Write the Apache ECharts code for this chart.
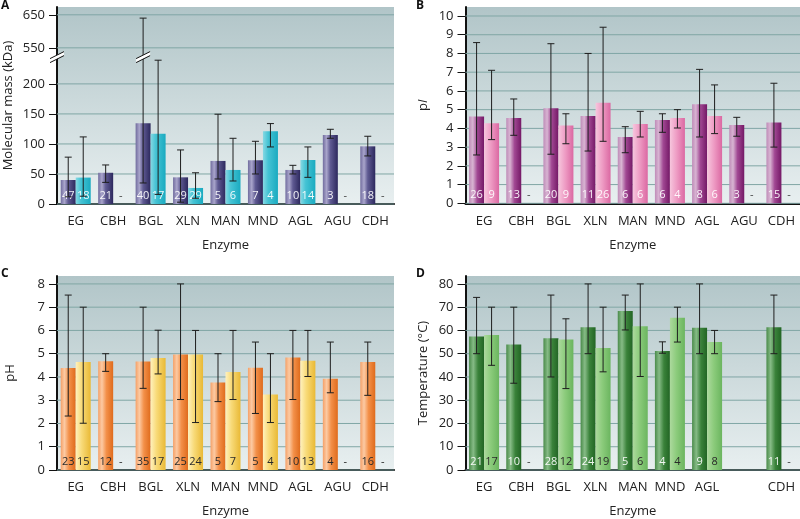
<!DOCTYPE html>
<html><head><meta charset="utf-8">
<script src="https://cdn.jsdelivr.net/npm/echarts@6/dist/echarts.min.js"></script>
<style>html,body{margin:0;padding:0;background:#fff}#c{width:800px;height:519px}</style>
</head><body><div id="c"></div>
<script>
// ---------- categories ----------
const enzymes = ['EG','CBH','BGL','XLN','MAN','MND','AGL','AGU','CDH'];
const enzymesD = ['EG','CBH','BGL','XLN','MAN','MND','AGL','','CDH'];

// ---------- A: molecular mass (kDa) ----------
const massTicks = [0,50,100,150,200,550,650];
const massBreak = 460;
const massS1 = [40,52,134.5,44.4,71.7,72.8,56.7,115,96];
const massS1Low = [12,36,35,3,41.7,50,50,109.4,80];
const massS1High = [78,65,640,90,149.5,104.4,64.4,124.4,112.8];
const massS2 = [44,null,117,26.7,56.7,121,73.3,null,null];
const massS2Low = [13,null,16,9.5,38.3,95,44.4,null,null];
const massS2High = [111.7,null,430,52,109.4,133.9,95,null,null];
const massN1 = ['47','21','40','29','5','7','10','3','18'];
const massN2 = ['18','-','17','29','6','4','14','-','-'];

// ---------- B: pI ----------
const piTicks = [0,1,2,3,4,5,6,7,8,9,10];
const piS1 = [4.64,4.55,5.07,4.66,3.54,4.45,5.29,4.18,4.32];
const piS1Low = [2.58,3.63,2.62,2.79,2.7,3.79,3.54,3.58,3.0];
const piS1High = [8.58,5.57,8.52,8.0,4.09,4.78,7.15,4.59,6.41];
const piS2 = [4.27,null,4.16,5.37,4.23,4.55,4.66,null,null];
const piS2Low = [3.4,null,3.18,3.31,3.54,4.02,3.72,null,null];
const piS2High = [7.1,null,4.78,9.4,4.91,5.0,6.32,null,null];
const piN1 = ['26','13','20','11','6','6','8','3','15'];
const piN2 = ['9','-','9','26','6','4','6','-','-'];

// ---------- C: pH ----------
const phTicks = [0,1,2,3,4,5,6,7,8];
const phS1 = [4.38,4.68,4.66,4.96,3.76,4.4,4.84,3.92,4.64];
const phS1Low = [2.32,4.24,3.51,3.03,2.94,2.43,3.03,3.32,3.21];
const phS1High = [7.52,5.0,7.0,8.0,5.0,5.5,6.0,5.5,5.5];
const phS2 = [4.64,null,4.81,4.96,4.21,3.25,4.7,null,null];
const phS2Low = [2.01,null,4.13,2.04,3.03,2.04,4.02,null,null];
const phS2High = [7.0,null,6.01,6.0,6.0,5.0,6.0,null,null];
const phN1 = ['23','12','35','25','5','5','10','4','16'];
const phN2 = ['15','-','17','24','7','4','13','-','-'];

// ---------- D: temperature (°C) ----------
const tempTicks = [0,10,20,30,40,50,60,70,80];
const tempS1 = [57.4,53.9,56.6,61.4,68.3,51.2,61.2,null,61.4];
const tempS1Low = [50,37.3,40,50,60.2,50.2,50,null,50];
const tempS1High = [74.2,70,75.2,80,75.2,55.1,80,null,75.2];
const tempS2 = [58,null,56.1,52.5,61.8,65.5,55,null,null];
const tempS2Low = [45,null,35,42.2,40.2,55,50,null,null];
const tempS2High = [70,null,65,70,80,70,60,null,null];
const tempN1 = ['21','10','28','24','5','4','9','','11'];
const tempN2 = ['17','-','12','19','6','4','8','','-'];

// ---------- helpers ----------
const FONT = 'Open Sans';
const BW = 15;
function massT(v){
  if (v == null) return null;
  if (v <= 200) return v;
  if (v <= 550) return 200 + (v - 200) * 60 / 350;
  return 260 + (v - 550) * 0.55;
}
const ident = v => v;
function grad(stops){
  return new echarts.graphic.LinearGradient(0,0,1,0, stops.map(c=>({offset:c[0], color:c[1]})));
}
const bgGrad = () => new echarts.graphic.LinearGradient(0,0,0,1,[
  {offset:0,color:'#b1c5c8'},{offset:1,color:'#e8eff0'}]);

function gridLineSeries(idx, ticks, tf){
  return {
    type:'custom', xAxisIndex:idx, yAxisIndex:idx, z:1, silent:true,
    data: ticks.map(t => [0, tf(t)]),
    encode:{x:0,y:1},
    renderItem(params, api){
      const cs = params.coordSys;
      const y = api.coord([0, api.value(1)])[1];
      return {type:'line', shape:{x1:cs.x, y1:y, x2:cs.x+cs.width, y2:y},
        style:{stroke:'#80a6a5', lineWidth:1}};
    }
  };
}

function barSeries(idx, vals, tf, color, nArr, nColor){
  return {
    type:'bar', xAxisIndex:idx, yAxisIndex:idx, z:2,
    data: vals.map(v => v == null ? null : tf(v)),
    barWidth: BW, barGap:'0%',
    itemStyle:{color: color},
    label:{show:true, position:'insideBottom', distance:3, color:nColor,
      fontFamily:FONT, fontSize:11, formatter: p => nArr[p.dataIndex]},
    silent:true, animation:false
  };
}

function errorSeries(idx, lists, tf){
  const items = [];
  lists.forEach((L, s) => {
    L.lo.forEach((lo, i) => {
      if (lo == null || L.hi[i] == null) return;
      items.push({i, s, lo: tf(lo), hi: tf(L.hi[i])});
    });
  });
  return {
    type:'custom', xAxisIndex:idx, yAxisIndex:idx, z:4, silent:true,
    data: items.map(it => [it.i, it.lo, it.hi]),
    encode:{x:0, y:[1,2]},
    renderItem(params, api){
      const it = items[params.dataIndex];
      const off = (it.s === 0 ? -1 : 1) * BW / 2;
      const a = api.coord([it.i, it.lo]);
      const b = api.coord([it.i, it.hi]);
      const x = a[0] + off;
      const st = {stroke:'#1e1e1e', lineWidth:1};
      return {type:'group', children:[
        {type:'line', shape:{x1:x, y1:a[1], x2:x, y2:b[1]}, style:st},
        {type:'line', shape:{x1:x-3.5, y1:a[1], x2:x+3.5, y2:a[1]}, style:st},
        {type:'line', shape:{x1:x-3.5, y1:b[1], x2:x+3.5, y2:b[1]}, style:st}
      ]};
    }
  };
}

function dashSeries(idx, n2, color){
  const items = [];
  n2.forEach((t, i) => { if (t === '-') items.push(i); });
  return {
    type:'custom', xAxisIndex:idx, yAxisIndex:idx, z:5, silent:true,
    data: items.map(i => [i, 0]),
    encode:{x:0,y:1},
    renderItem(params, api){
      const i = items[params.dataIndex];
      const p = api.coord([i, 0]);
      return {type:'text', x:p[0] + BW/2, y:p[1] - 8,
        style:{text:'-', fill:color, font:'11px "'+FONT+'"', align:'center', verticalAlign:'middle'}};
    }
  };
}

function breakSeries(idx){
  return {
    type:'custom', xAxisIndex:idx, yAxisIndex:idx, z:6, silent:true,
    data: [[2, massT(massBreak)]],
    encode:{x:0,y:1},
    renderItem(params, api){
      const p = api.coord([api.value(0), api.value(1)]);
      const band = api.size([1,0])[0];
      const axisX = api.coord([0, api.value(1)])[0] - band/2;
      const mk = (cx, cy) => ({type:'group', children:[
        {type:'polygon', shape:{points:[[cx-7,cy+1.5],[cx+7,cy-5.5],[cx+7,cy-1.5],[cx-7,cy+5.5]]},
          style:{fill:'#ffffff'}},
        {type:'line', shape:{x1:cx-7,y1:cy+1.5,x2:cx+7,y2:cy-5.5}, style:{stroke:'#111',lineWidth:1}},
        {type:'line', shape:{x1:cx-7,y1:cy+5.5,x2:cx+7,y2:cy-1.5}, style:{stroke:'#111',lineWidth:1}}
      ]});
      return {type:'group', children:[mk(p[0]-BW/2, p[1]), mk(axisX, p[1])]};
    }
  };
}

function xAxis(idx, data, hideEmptyTick){
  return {
    gridIndex: idx, type:'category', data, boundaryGap:true,
    axisLine:{lineStyle:{color:'#111', width:2}},
    axisTick:{alignWithLabel:true, length:8, lineStyle:{color:'#8a8a8a', width:1},
      interval: hideEmptyTick ? ((i, v) => v !== '') : 0},
    axisLabel:{color:'#222', fontFamily:FONT, fontSize:13, margin:11, interval:0},
    name:'Enzyme', nameLocation:'middle', nameGap:35,
    nameTextStyle:{color:'#222', fontFamily:FONT, fontSize:13}
  };
}
function yAxis(idx, max, tickVals, labelFn, name, nameGap, rich){
  const o = {
    gridIndex: idx, type:'value', min:0, max,
    axisLine:{show:true, lineStyle:{color:'#111', width:2}},
    axisTick:{show:true, length:8, lineStyle:{color:'#111'}, customValues: tickVals},
    axisLabel:{color:'#222', fontFamily:FONT, fontSize:13, margin:12, customValues: tickVals,
      formatter: labelFn},
    splitLine:{show:false},
    name, nameLocation:'middle', nameGap,
    nameTextStyle:{color:'#222', fontFamily:FONT, fontSize:13}
  };
  if (rich) o.nameTextStyle.rich = rich;
  return o;
}

const massTT = massTicks.map(massT);
const massLabel = v => { const k = massTT.findIndex(t => Math.abs(t - v) < 0.01); return k >= 0 ? String(massTicks[k]) : ''; };
const plainLabel = v => String(Math.round(v));

const colA1 = grad([[0,'#716c9e'],[0.25,'#a9a5cb'],[0.5,'#5f5a92'],[1,'#2c285d']]);
const colA2 = grad([[0,'#86d8e3'],[0.35,'#45c3d4'],[1,'#1aaac0']]);
const colB1 = grad([[0,'#bf8cb8'],[0.25,'#d8b4d2'],[0.55,'#a14893'],[1,'#741866']]);
const colB2 = grad([[0,'#f6c6dd'],[0.45,'#ee9cc4'],[1,'#db68a2']]);
const colC1 = grad([[0,'#f5a067'],[0.25,'#fccaa3'],[0.55,'#f39049'],[1,'#df6b1c']]);
const colC2 = grad([[0,'#fff1bc'],[0.4,'#f8da78'],[1,'#e9b935']]);
const colD1 = grad([[0,'#4a8b4a'],[0.28,'#86bb86'],[0.6,'#3a823a'],[1,'#226524']]);
const colD2 = grad([[0,'#acd99d'],[0.45,'#8bcb7b'],[1,'#6bb55f']]);

const grids = [
  {left:57, top:7, width:337, height:197},
  {left:465.5, top:7, width:338, height:196.3},
  {left:57, top:276, width:337, height:196.7},
  {left:465.5, top:276, width:338, height:196.7}
].map(g => Object.assign(g, {show:true, backgroundColor:bgGrad(), borderWidth:0}));

const option = {
  animation:false,
  textStyle:{fontFamily:FONT},
  grid: grids,
  xAxis:[xAxis(0, enzymes), xAxis(1, enzymes), xAxis(2, enzymes), xAxis(3, enzymesD, true)],
  yAxis:[
    yAxis(0, 328, massTT, massLabel, 'Molecular mass (kDa)', 42),
    yAxis(1, 10.48, piTicks, plainLabel, '{a|p}{b|I}', 36,
      {a:{fontFamily:FONT, fontSize:13, color:'#222'}, b:{fontFamily:FONT, fontSize:13, color:'#222', fontStyle:'italic'}}),
    yAxis(2, 8.34, phTicks, plainLabel, 'pH', 40),
    yAxis(3, 83.4, tempTicks, plainLabel, 'Temperature (°C)', 36)
  ],
  graphic:[
    {type:'text', left:1, top:0, style:{text:'A', font:'bold 12px "'+FONT+'"', fill:'#111'}},
    {type:'text', left:416, top:0, style:{text:'B', font:'bold 12px "'+FONT+'"', fill:'#111'}},
    {type:'text', left:1, top:268, style:{text:'C', font:'bold 12px "'+FONT+'"', fill:'#111'}},
    {type:'text', left:416, top:268, style:{text:'D', font:'bold 12px "'+FONT+'"', fill:'#111'}}
  ],
  series:[
    gridLineSeries(0, massTicks, massT),
    barSeries(0, massS1, massT, colA1, massN1, 'rgba(255,255,255,0.92)'),
    barSeries(0, massS2, massT, colA2, massN2, 'rgba(255,255,255,0.92)'),
    errorSeries(0, [{lo:massS1Low, hi:massS1High},{lo:massS2Low, hi:massS2High}], massT),
    dashSeries(0, massN2, '#444'),
    breakSeries(0),

    gridLineSeries(1, piTicks, ident),
    barSeries(1, piS1, ident, colB1, piN1, 'rgba(255,255,255,0.92)'),
    barSeries(1, piS2, ident, colB2, piN2, 'rgba(255,255,255,0.92)'),
    errorSeries(1, [{lo:piS1Low, hi:piS1High},{lo:piS2Low, hi:piS2High}], ident),
    dashSeries(1, piN2, '#444'),

    gridLineSeries(2, phTicks, ident),
    barSeries(2, phS1, ident, colC1, phN1, '#2a2a2a'),
    barSeries(2, phS2, ident, colC2, phN2, '#2a2a2a'),
    errorSeries(2, [{lo:phS1Low, hi:phS1High},{lo:phS2Low, hi:phS2High}], ident),
    dashSeries(2, phN2, '#222'),

    gridLineSeries(3, tempTicks, ident),
    barSeries(3, tempS1, ident, colD1, tempN1, 'rgba(255,255,255,0.92)'),
    barSeries(3, tempS2, ident, colD2, tempN2, '#2a2a2a'),
    errorSeries(3, [{lo:tempS1Low, hi:tempS1High},{lo:tempS2Low, hi:tempS2High}], ident),
    dashSeries(3, tempN2, '#333')
  ]
};
const chart = echarts.init(document.getElementById('c'), null, {renderer:'canvas'});
chart.setOption(option);
</script>
</body></html>
